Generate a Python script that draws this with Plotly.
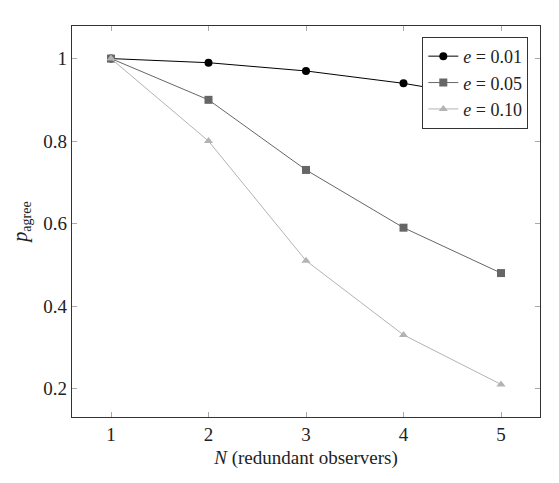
import plotly.graph_objects as go

# data
n_observers = [1, 2, 3, 4, 5]
p_e001 = [1.00, 0.99, 0.97, 0.94, 0.90]
p_e005 = [1.00, 0.90, 0.73, 0.59, 0.48]
p_e010 = [1.00, 0.80, 0.51, 0.33, 0.21]
series_names = ["<i>e</i> = 0.01", "<i>e</i> = 0.05", "<i>e</i> = 0.10"]

font_family = "Liberation Serif"

fig = go.Figure()
fig.add_trace(go.Scatter(x=n_observers, y=p_e001, name=series_names[0], mode="lines+markers",
                         line=dict(color="black", width=1),
                         marker=dict(symbol="circle", size=8, color="black")))
fig.add_trace(go.Scatter(x=n_observers, y=p_e005, name=series_names[1], mode="lines+markers",
                         line=dict(color="#666666", width=1),
                         marker=dict(symbol="square", size=8, color="#666666")))
fig.add_trace(go.Scatter(x=n_observers, y=p_e010, name=series_names[2], mode="lines+markers",
                         line=dict(color="#b3b3b3", width=1),
                         marker=dict(symbol="triangle-up", size=8, color="#b3b3b3")))

axis_common = dict(showgrid=False, zeroline=False, showline=True, linecolor="#333333",
                   linewidth=1.2, mirror="ticks", ticks="inside", ticklen=5,
                   tickcolor="#aaaaaa", tickwidth=1,
                   tickfont=dict(family=font_family, size=19, color="#222222"))

# the page body has an 8px margin, so the figure is sized to fit inside the window
fig.update_layout(
    width=551, height=475,
    margin=dict(l=64, r=19, t=18, b=66),
    paper_bgcolor="white", plot_bgcolor="white",
    font=dict(family=font_family, color="#222222"),
    showlegend=True,
    legend=dict(x=0.975, y=0.972, xanchor="right", yanchor="top",
                bgcolor="white", bordercolor="#333333", borderwidth=1,
                font=dict(family=font_family, size=18, color="#222222"),
                tracegroupgap=0, itemwidth=30),
)
fig.update_xaxes(range=[0.6, 5.4], tickvals=n_observers,
                 title=dict(text="<i>N</i> (redundant observers)",
                            font=dict(family=font_family, size=19), standoff=6),
                 **axis_common)
fig.update_yaxes(range=[0.131, 1.079], tickvals=[0.2, 0.4, 0.6, 0.8, 1],
                 ticktext=["0.2", "0.4", "0.6", "0.8", "1"],
                 title=dict(text="<i>p</i><sub>agree</sub>",
                            font=dict(family=font_family, size=20), standoff=10),
                 **axis_common)

fig.write_html("out.html")
